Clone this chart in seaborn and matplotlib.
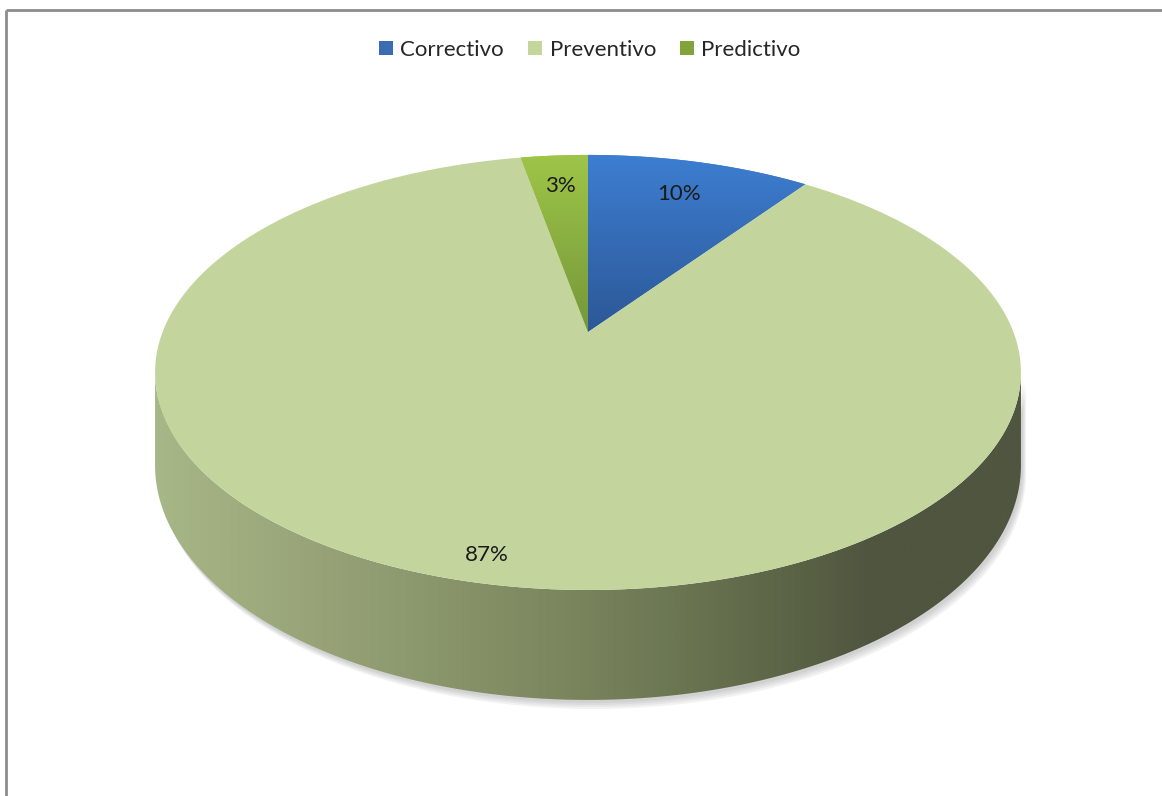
import numpy as np
import matplotlib
matplotlib.use("Agg")
import matplotlib.pyplot as plt
from matplotlib.patches import Polygon, Patch
from matplotlib.colors import LinearSegmentedColormap
import seaborn as sns

# data
categories = ["Correctivo", "Preventivo", "Predictivo"]
values = [10, 87, 3]
pct_labels = ["10%", "87%", "3%"]

# colours (top gradient start/end, legend swatch)
top_colors = [("#3d7ed1", "#2c5897"), ("#c3d59d", "#c3d59d"), ("#9ec548", "#75973a")]
legend_colors = ["#3a6cb4", "#c4d69e", "#80a33c"]
side_stops = ["#a8b787", "#96a276", "#78835c", "#5f6949", "#4f553f", "#4f553f"]
label_r = [0.79, 0.91, 0.80]

sns.set_theme(style="white")
plt.rcParams['font.family'] = ['Lato', 'DejaVu Sans']

fig = plt.figure(figsize=(11.62, 7.96), dpi=100)
ax = fig.add_axes([0, 0, 1, 1])
ax.set_xlim(0, 1162)
ax.set_ylim(796, 0)
ax.axis('off')

# perspective pie geometry (pixels)
cx, cy = 588, 332
A, B, c, H = 425.4, 210.0, 0.186, 89.5


def project(r, t, drop=0.0):
    t = np.radians(t)
    u = r * np.sin(t)
    v = -r * np.cos(t)
    s = 1 / (1 - c * v)
    return cx + A * u * s, cy + B * v * s + H * drop * s


bounds = np.concatenate([[0], np.cumsum(values)]) / sum(values) * 360
tv0 = np.degrees(np.arccos(-c))
tv1 = 360 - tv0

# shadow + side walls
for i in range(len(values)):
    lo, hi = max(bounds[i], tv0), min(bounds[i + 1], tv1)
    if lo >= hi:
        continue
    t = np.linspace(lo, hi, 300)
    xt, yt = project(1, t)
    xb, yb = project(1, t, 1)
    pts = np.column_stack([np.r_[xt, xb[::-1]], np.r_[yt, yb[::-1]]])
    for dx, dy in [(5, 9), (4, 7), (3, 5), (2, 3)]:
        ax.add_patch(Polygon(pts + [dx, dy], closed=True, fc="#808080",
                             ec="none", alpha=0.10, zorder=1))
    side = Polygon(pts, closed=True, fc="none", ec="none", zorder=2)
    ax.add_patch(side)
    cmap = LinearSegmentedColormap.from_list(
        "side", list(zip([0, 0.2, 0.5, 0.7, 0.83, 1.0], side_stops)))
    im = ax.imshow(np.linspace(0, 1, 400)[None, :], cmap=cmap, aspect='auto',
                   extent=(pts[:, 0].min(), pts[:, 0].max(), pts[:, 1].max(), pts[:, 1].min()),
                   zorder=2)
    im.set_clip_path(side)

# top faces
for i in range(len(values)):
    t = np.linspace(bounds[i], bounds[i + 1], 300)
    xs, ys = project(1, t)
    pts = np.column_stack([np.r_[cx, xs], np.r_[cy, ys]])
    c0, c1 = top_colors[i]
    face = Polygon(pts, closed=True, fc=c0, ec="none", zorder=3)
    ax.add_patch(face)
    if c0 != c1:
        cmap = LinearSegmentedColormap.from_list("top%d" % i, [c0, c1])
        im = ax.imshow(np.linspace(0, 1, 300)[:, None], cmap=cmap, aspect='auto',
                       extent=(pts[:, 0].min(), pts[:, 0].max(), pts[:, 1].max(), pts[:, 1].min()),
                       zorder=3)
        im.set_clip_path(face)

# percentage labels
for i, lab in enumerate(pct_labels):
    mid = (bounds[i] + bounds[i + 1]) / 2
    x, y = project(label_r[i], mid)
    ax.text(x, y, lab, ha='center', va='center', fontsize=16, color="#1a1a1a", zorder=5)

# legend
handles = [Patch(facecolor=col, edgecolor='none', label=cat)
           for cat, col in zip(categories, legend_colors)]
ax.legend(handles=handles, loc='center', bbox_to_anchor=(590 / 1162, 1 - 50 / 796),
          ncol=3, frameon=False, fontsize=16, handlelength=0.6, handleheight=0.6,
          handletextpad=0.35, columnspacing=1.1)

# chart frame
ax.plot([6, 6], [10, 796], color="#8c8c8c", lw=2, zorder=6, solid_capstyle='butt')
ax.plot([6, 1162], [10, 10], color="#8c8c8c", lw=2, zorder=6, solid_capstyle='butt')

fig.savefig("out.png", dpi=100)
